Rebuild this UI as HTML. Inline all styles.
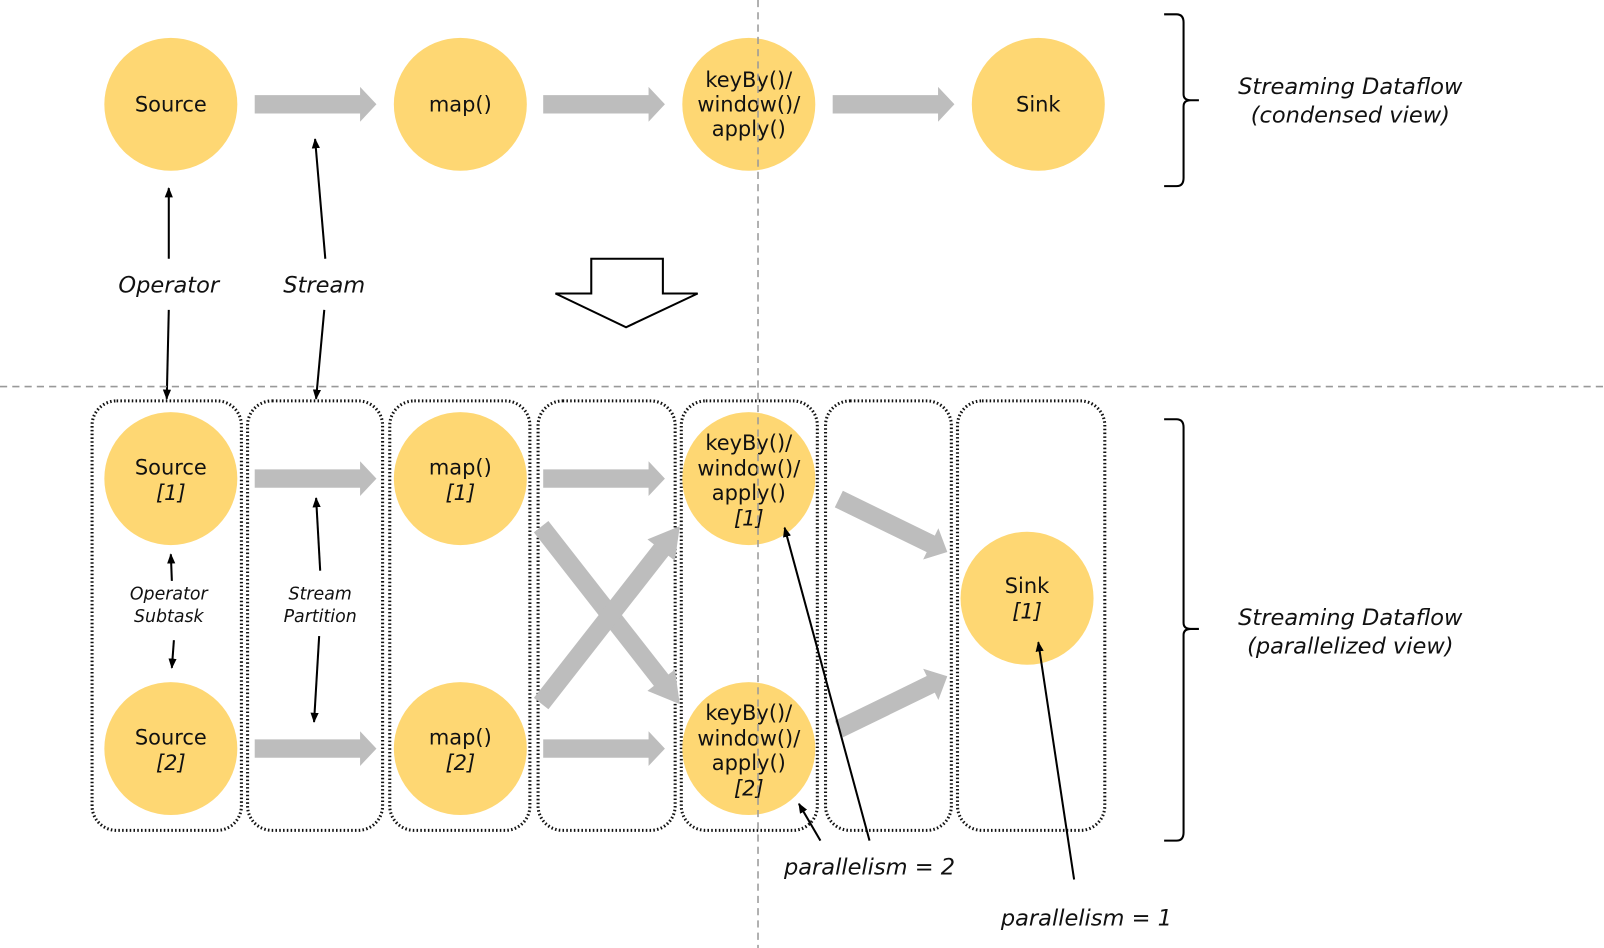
<!DOCTYPE html>
<html><head><meta charset="utf-8"><style>
html,body{margin:0;padding:0;background:#fff;}
svg{display:block;}
.c{fill:#fed773;}
.t{font-family:"DejaVu Sans",Verdana,sans-serif;font-size:20.5px;fill:#111;text-anchor:middle;}
.i{font-style:italic;}
.l{font-family:"DejaVu Sans",Verdana,sans-serif;font-style:italic;fill:#111;text-anchor:middle;}
.box{fill:none;stroke:#111;stroke-width:3;stroke-dasharray:1.5 2.2;}
.ln{stroke:#000;stroke-width:2;fill:none;}
</style></head><body>
<svg width="1604" height="948" viewBox="0 0 1568 927" preserveAspectRatio="none" xmlns="http://www.w3.org/2000/svg">
<defs>
<marker id="ah" markerWidth="10" markerHeight="10" refX="9" refY="5" orient="auto" markerUnits="userSpaceOnUse">
<path d="M0,1 L10,5 L0,9 Z" fill="#000"/></marker>
<g id="ga"><path d="M0,-9 L103,-9 L103,-17 L119,0 L103,17 L103,9 L0,9 Z" fill="#bdbdbd"/></g>
</defs>

<circle class="c" cx="167" cy="102" r="65"/>
<circle class="c" cx="450" cy="102" r="65"/>
<circle class="c" cx="732" cy="102" r="65"/>
<circle class="c" cx="1015" cy="102" r="65"/>
<text class="t" x="167" y="109">Source</text>
<text class="t" x="450" y="109">map()</text>
<text class="t" x="732" y="85">keyBy()/</text>
<text class="t" x="732" y="109">window()/</text>
<text class="t" x="732" y="133">apply()</text>
<text class="t" x="1015" y="109">Sink</text>
<use href="#ga" transform="translate(249,102)"/>
<use href="#ga" transform="translate(531,102)"/>
<use href="#ga" transform="translate(814,102)"/>

<path d="M1138,14 H1150 Q1157,14 1157,22 V92 Q1157,98 1164,98 H1172 M1164,98 Q1157,98 1157,104 V174 Q1157,182 1150,182 H1138" class="ln"/>
<text class="l" x="1320" y="92" font-size="22">Streaming Dataflow</text>
<text class="l" x="1320" y="120" font-size="22">(condensed view)</text>
<path d="M1138,410 H1150 Q1157,410 1157,418 V609 Q1157,615 1164,615 H1172 M1164,615 Q1157,615 1157,621 V814 Q1157,822 1150,822 H1138" class="ln"/>
<text class="l" x="1320" y="611" font-size="22">Streaming Dataflow</text>
<text class="l" x="1320" y="639" font-size="22">(parallelized view)</text>

<text class="l" x="165" y="286" font-size="22">Operator</text>
<text class="l" x="317" y="286" font-size="22">Stream</text>
<line class="ln" x1="165" y1="253" x2="165" y2="184" marker-end="url(#ah)"/>
<line class="ln" x1="165" y1="303" x2="163" y2="390" marker-end="url(#ah)"/>
<line class="ln" x1="318" y1="253" x2="308" y2="136" marker-end="url(#ah)"/>
<line class="ln" x1="317" y1="303" x2="309" y2="390" marker-end="url(#ah)"/>

<path d="M578,253 H648 V287 H682 L612,320 L543,287 H578 Z" fill="#fff" stroke="#000" stroke-width="2"/>

<line x1="0" y1="378" x2="1568" y2="378" stroke="#999" stroke-width="1.5" stroke-dasharray="7 5"/>

<rect class="box" x="90" y="392" width="146" height="420" rx="24"/>
<rect class="box" x="242" y="392" width="132" height="420" rx="24"/>
<rect class="box" x="381" y="392" width="137" height="420" rx="24"/>
<rect class="box" x="526" y="392" width="134" height="420" rx="24"/>
<rect class="box" x="666" y="392" width="133" height="420" rx="24"/>
<rect class="box" x="807" y="392" width="123" height="420" rx="24"/>
<rect class="box" x="936" y="392" width="144" height="420" rx="24"/>

<circle class="c" cx="167" cy="468" r="65"/>
<circle class="c" cx="167" cy="732" r="65"/>
<circle class="c" cx="450" cy="468" r="65"/>
<circle class="c" cx="450" cy="732" r="65"/>
<circle class="c" cx="732" cy="468" r="65"/>
<circle class="c" cx="732" cy="732" r="65"/>
<circle class="c" cx="1004" cy="585" r="65"/>
<text class="t" x="167" y="464">Source</text><text class="t i" x="167" y="489">[1]</text>
<text class="t" x="167" y="728">Source</text><text class="t i" x="167" y="753">[2]</text>
<text class="t" x="450" y="464">map()</text><text class="t i" x="450" y="489">[1]</text>
<text class="t" x="450" y="728">map()</text><text class="t i" x="450" y="753">[2]</text>
<text class="t" x="732" y="440">keyBy()/</text><text class="t" x="732" y="465">window()/</text><text class="t" x="732" y="489">apply()</text><text class="t i" x="732" y="514">[1]</text>
<text class="t" x="732" y="704">keyBy()/</text><text class="t" x="732" y="729">window()/</text><text class="t" x="732" y="753">apply()</text><text class="t i" x="732" y="778">[2]</text>
<text class="t" x="1004" y="580">Sink</text><text class="t i" x="1004" y="605">[1]</text>

<use href="#ga" transform="translate(249,468)"/>
<use href="#ga" transform="translate(531,468)"/>
<use href="#ga" transform="translate(249,732)"/>
<use href="#ga" transform="translate(531,732)"/>
<use href="#ga" transform="translate(529,515) rotate(52) scale(1.85,1)"/>
<use href="#ga" transform="translate(529,688) rotate(-52) scale(1.85,1)"/>
<g transform="translate(820,488) rotate(26)"><path d="M0,-9 L100,-9 L100,-17 L118,0 L100,17 L100,9 L0,9 Z" fill="#bdbdbd"/></g>
<g transform="translate(820,713) rotate(-26)"><path d="M0,-9 L100,-9 L100,-17 L118,0 L100,17 L100,9 L0,9 Z" fill="#bdbdbd"/></g>

<line x1="741" y1="0" x2="741" y2="927" stroke="#999" stroke-width="1.5" stroke-dasharray="7 5"/>

<text class="l" x="165" y="586" font-size="17">Operator</text>
<text class="l" x="165" y="608" font-size="17">Subtask</text>
<line class="ln" x1="168" y1="568" x2="167" y2="542" marker-end="url(#ah)"/>
<line class="ln" x1="170" y1="626" x2="168" y2="653" marker-end="url(#ah)"/>
<text class="l" x="313" y="586" font-size="17">Stream</text>
<text class="l" x="313" y="608" font-size="17">Partition</text>
<line class="ln" x1="313" y1="558" x2="309" y2="487" marker-end="url(#ah)"/>
<line class="ln" x1="312" y1="622" x2="307" y2="706" marker-end="url(#ah)"/>

<text class="l" x="850" y="855" font-size="22">parallelism = 2</text>
<text class="l" x="1062" y="905" font-size="22">parallelism = 1</text>
<line class="ln" x1="850" y1="822" x2="767" y2="516" marker-end="url(#ah)"/>
<line class="ln" x1="802" y1="822" x2="781" y2="786" marker-end="url(#ah)"/>
<line class="ln" x1="1050" y1="860" x2="1015" y2="628" marker-end="url(#ah)"/>
</svg>
</body></html>
